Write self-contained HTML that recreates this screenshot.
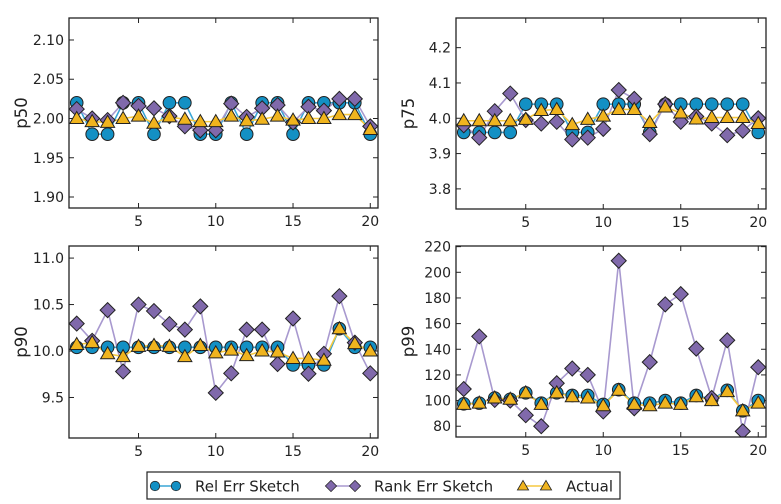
<!DOCTYPE html>
<html><head><meta charset="utf-8"><style>
html,body{margin:0;padding:0;background:#fff;}
svg{display:block;font-family:"DejaVu Sans","Liberation Sans",sans-serif;}
</style></head><body>
<svg id="chart" width="781" height="504" viewBox="0 0 781 504" xmlns="http://www.w3.org/2000/svg"></svg>
<script>
const xs = [1,2,3,4,5,6,7,8,9,10,11,12,13,14,15,16,17,18,19,20];
const xTicks = [5,10,15,20];
const p50Rel = [2.02,1.98,1.98,2.02,2.02,1.98,2.02,2.02,1.98,1.98,2.02,1.98,2.02,2.02,1.98,2.02,2.02,2.02,2.02,1.98];
const p50Rank = [2.012,2.0,1.998,2.02,2.016,2.013,2.003,1.99,1.985,1.985,2.019,2.002,2.013,2.017,1.995,2.015,2.01,2.025,2.025,1.99];
const p50Act = [2.0,1.996,1.995,2.0,2.003,1.994,2.002,1.999,1.996,1.996,2.003,1.997,1.999,2.003,1.998,2.0,2.0,2.005,2.005,1.986];
const p50Ticks = [1.90,1.95,2.00,2.05,2.10];
const p75Rel = [3.96,3.96,3.96,3.96,4.04,4.04,4.04,3.96,3.96,4.04,4.04,4.04,3.96,4.04,4.04,4.04,4.04,4.04,4.04,3.96];
const p75Rank = [3.98,3.945,4.02,4.07,3.995,3.985,3.99,3.94,3.945,3.97,4.08,4.055,3.955,4.04,3.99,4.005,3.985,3.952,3.965,4.0];
const p75Act = [3.993,3.993,3.993,3.993,3.997,4.022,4.025,3.982,3.997,4.006,4.025,4.025,3.988,4.032,4.015,3.998,4.002,4.002,4.002,3.985];
const p75Ticks = [3.8,3.9,4.0,4.1,4.2];
const p90Rel = [10.04,10.04,10.04,10.04,10.04,10.04,10.04,10.04,10.04,10.04,10.04,10.04,10.04,10.04,9.85,9.85,9.85,10.24,10.04,10.04];
const p90Rank = [10.295,10.11,10.44,9.78,10.5,10.43,10.29,10.23,10.48,9.55,9.76,10.23,10.23,9.86,10.35,9.755,9.97,10.59,10.09,9.76];
const p90Act = [10.07,10.09,9.97,9.94,10.05,10.06,10.05,9.94,10.06,9.98,10.01,9.95,10.0,9.99,9.92,9.92,9.9,10.24,10.08,10.0];
const p90Ticks = [9.5,10.0,10.5,11.0];
const p99Rel = [97.5,98,102,101,106,98,106,104,104,97,108.5,98,98,100,98,104,101,108,92,100];
const p99Rank = [109,150,100.5,100,88.6,80,113.5,125,120,91.5,209,94,130,175,183,140.5,102,147,76,126];
const p99Act = [97,98,102,101,106,97,106,103,102,96,108,97,96,98,97,103,100,107,92,98];
const p99Ticks = [80,100,120,140,160,180,200,220];

const NS="http://www.w3.org/2000/svg";
const svg=document.getElementById('chart');
function mk(tag,attrs,parent){const e=document.createElementNS(NS,tag);for(const k in attrs)e.setAttribute(k,attrs[k]);(parent||svg).appendChild(e);return e;}
const C={rel:'#1390c4',relL:'#3aa6d6',rank:'#8069ab',rankL:'#a899cf',act:'#f0b41e',actL:'#f6c940'};

function marker(g,type,x,y){
  let m;
  if(type==='rel') m=mk('circle',{cx:x,cy:y,r:6.3,fill:C.rel,stroke:'#222','stroke-width':1},g);
  else if(type==='rank') m=mk('polygon',{points:`${x},${y-7.5} ${x+7.5},${y} ${x},${y+7.5} ${x-7.5},${y}`,fill:C.rank,stroke:'#222','stroke-width':1},g);
  else m=mk('polygon',{points:`${x},${y-7} ${x+7},${y+5} ${x-7},${y+5}`,fill:C.act,stroke:'#222','stroke-width':1},g);
  return m;
}

function panel(name,box,ylim,ticks,fmt,series){
  const g=mk('g',{});
  
  
  const [L,T,R,B]=box;
  const sx=v=>L+(v-0.5)/20*(R-L);
  const sy=v=>B-(v-ylim[0])/(ylim[1]-ylim[0])*(B-T);
  ticks.forEach(t=>{
    const y=sy(t);
    mk('line',{x1:L,x2:L+5,y1:y,y2:y,stroke:'#222','stroke-width':1},g);
    mk('line',{x1:R-5,x2:R,y1:y,y2:y,stroke:'#222','stroke-width':1},g);
    const tx=mk('text',{x:L-5,y:y+5,'text-anchor':'end','font-size':14,fill:'#222'},g);
    tx.textContent=fmt(t);
    
    
  });
  xTicks.forEach(t=>{
    const x=sx(t);
    mk('line',{x1:x,x2:x,y1:B,y2:B-5,stroke:'#222','stroke-width':1},g);
    mk('line',{x1:x,x2:x,y1:T,y2:T+5,stroke:'#222','stroke-width':1},g);
    const tx=mk('text',{x:x,y:B+18,'text-anchor':'middle','font-size':14,fill:'#222'},g);
    tx.textContent=t;
    
    
  });
  const yl=mk('text',{x:0,y:0,transform:`translate(${L-42},${(T+B)/2}) rotate(-90)`,'text-anchor':'middle','font-size':16.5,fill:'#222'},g);
  yl.textContent=name;
  
  
  const cp='clip-'+name;
  const cl=mk('clipPath',{id:cp},g); mk('rect',{x:L,y:T,width:R-L,height:B-T},cl);
  const pg=mk('g',{'clip-path':`url(#${cp})`},g);
  series.forEach(([type,vals,lc])=>{
    const pts=xs.map((x,i)=>sx(x)+','+sy(vals[i])).join(' ');
    const pl=mk('polyline',{points:pts,fill:'none',stroke:lc,'stroke-width':1.6},pg);
    
    
  });
  series.forEach(([type,vals])=>{
    xs.forEach((x,i)=>{
      const m=marker(pg,type,sx(x),sy(vals[i]));
      
      
    });
  });
  const fr=mk('rect',{x:L,y:T,width:R-L,height:B-T,fill:'none',stroke:'#222','stroke-width':1.3},g);
  
  
}
const f2=v=>v.toFixed(2), f1=v=>v.toFixed(1), f0=v=>String(v);
panel('p50',[69,18,378,208],[1.886,2.128],p50Ticks,f2,[['rel',p50Rel,C.relL],['rank',p50Rank,C.rankL],['act',p50Act,C.actL]]);
panel('p75',[456,18,766,209],[3.743,4.284],p75Ticks,f1,[['rel',p75Rel,C.relL],['rank',p75Rank,C.rankL],['act',p75Act,C.actL]]);
panel('p90',[69,246,378,438],[9.064,11.13],p90Ticks,f1,[['rel',p90Rel,C.relL],['rank',p90Rank,C.rankL],['act',p90Act,C.actL]]);
panel('p99',[456,246,766,437],[71.6,220.5],p99Ticks,f0,[['rel',p99Rel,C.relL],['rank',p99Rank,C.rankL],['act',p99Act,C.actL]]);

const lg=mk('g',{});


mk('rect',{x:147,y:472,width:473,height:27,fill:'#fff',stroke:'#222','stroke-width':1.2},lg);
const items=[['rel','Rel Err Sketch',155,176,195,C.relL],['rank','Rank Err Sketch',331,355,374,C.rankL],['act','Actual',523,546,566,C.actL]];
items.forEach(([type,label,a,b,tx,lc])=>{
  const eg=mk('g',{},lg);
  
  
  mk('line',{x1:a,x2:b,y1:486,y2:486,stroke:lc,'stroke-width':1.6},eg);
  const s=type==='act'?0.8:0.75;
  [a,b].forEach(x=>{const m=marker(eg,type,x,486);m.setAttribute('transform',`translate(${x},486) scale(${s}) translate(${-x},-486)`);});
  const t=mk('text',{x:tx,y:491.5,'font-size':15,fill:'#222'},eg);
  t.textContent=label;
});
</script>
</body></html>
